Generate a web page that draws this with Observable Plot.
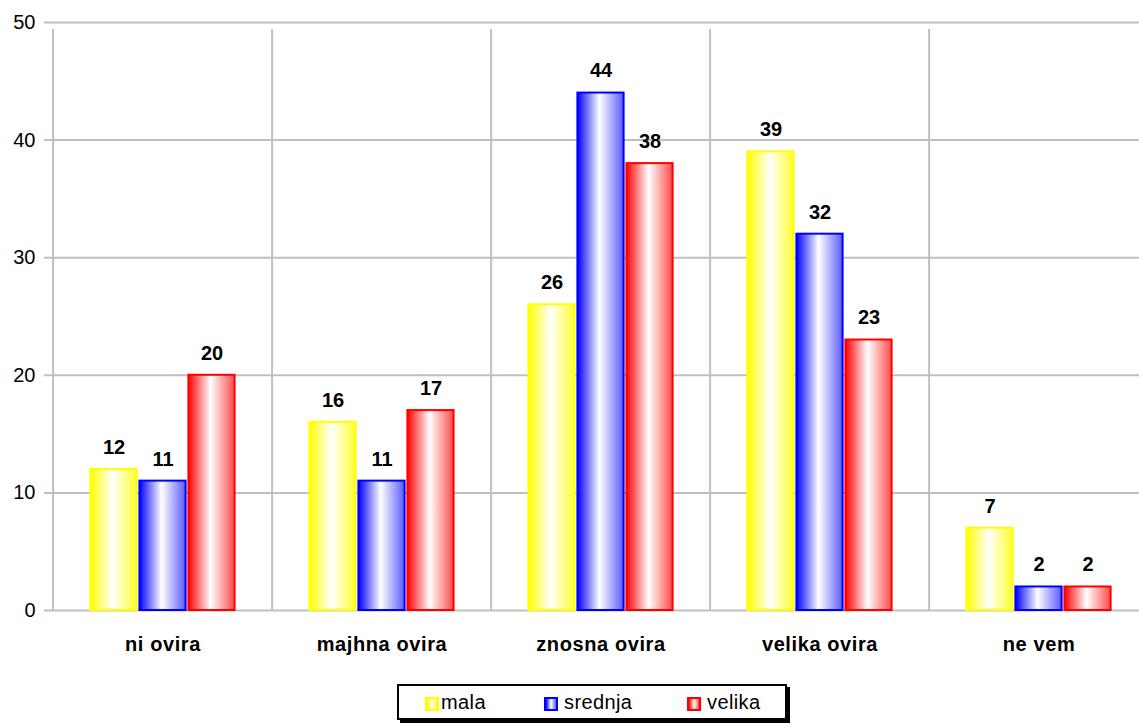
<!DOCTYPE html>
<html><head><meta charset="utf-8">
<script src="https://cdn.jsdelivr.net/npm/d3@7"></script>
<script src="https://cdn.jsdelivr.net/npm/@observablehq/plot@0.6"></script>
<style>
html,body{margin:0;padding:0;background:#fff;overflow:hidden;}
body{width:1139px;height:726px;position:relative;font-family:"Liberation Sans",Arial,sans-serif;}
#chart{position:absolute;left:0;top:0;}
#legend{position:absolute;left:397px;top:684px;width:386px;height:32px;border:2px solid #000;box-shadow:3px 3px 0 #000;background:#fff;}
.item{position:absolute;top:0;height:32px;line-height:32px;font-size:20px;letter-spacing:0.4px;color:#000;}
.sw{position:absolute;top:11px;width:10px;height:10px;border:2px solid;}
</style></head><body>
<div id="chart"></div>
<div id="legend"></div>
<script>
const categories = ["ni ovira", "majhna ovira", "znosna ovira", "velika ovira", "ne vem"];
const seriesNames = ["mala", "srednja", "velika"];
const mala = [12, 16, 26, 39, 7];
const srednja = [11, 11, 44, 32, 2];
const velika = [20, 17, 38, 23, 2];
const yTicks = [0, 10, 20, 30, 40, 50];
const colors = ["#ffff00", "#0000ff", "#ff0000"];
const rightColors = ["#ffff30", "#5a5aff", "#ff4a4a"];

const seriesValues = [mala, srednja, velika];
const data = categories.flatMap((c, i) => seriesNames.map((s, j) => ({category: c, series: s, value: seriesValues[j][i]})));

const W = 1150, H = 680, ML = 51, MT = 22, MB = 70;
const bw = (W - ML) / categories.length;
const barW = 49;
const inset = (bw - barW) / 2 + 1;
const grid = "#c0c0c0";

const marks = [
  Plot.ruleY(yTicks, {stroke: grid, strokeWidth: 2, insetLeft: -7}),
  Plot.ruleX(categories, {x: d => d, dx: -bw / 2, y1: 0, y2: 50, insetBottom: -7, stroke: grid, strokeWidth: 2}),
  Plot.ruleX([categories[categories.length - 1]], {x: d => d, dx: bw / 2, y1: 0, y2: 50, insetBottom: -7, stroke: grid, strokeWidth: 2}),
  ...seriesNames.map((s, j) => Plot.barY(data.filter(d => d.series === s), {
    x: "category", y: "value", fill: `url(#grad${j})`, stroke: colors[j], strokeWidth: 2,
    dx: (j - 1) * barW, insetLeft: inset, insetRight: inset
  })),
  ...seriesNames.map((s, j) => Plot.text(data.filter(d => d.series === s), {
    x: "category", y: "value", text: d => String(d.value), dx: (j - 1) * barW, dy: -22,
    fontWeight: "bold", fontSize: 20, fill: "black"
  })),
  Plot.axisY({ticks: yTicks, tickSize: 0, tickPadding: 16, fontSize: 20, fill: "black", label: null}),
  Plot.axisX({tickSize: 0, tickPadding: 26, fontSize: 20, fontWeight: "bold", fill: "black", label: null})
];

const chart = Plot.plot({
  width: W, height: H,
  marginLeft: ML, marginTop: MT, marginBottom: MB, marginRight: 0,
  style: "max-width:none;font-family:'Liberation Sans',Arial,sans-serif;background:white;overflow:hidden;",
  x: {domain: categories, padding: 0},
  y: {domain: [0, 50]},
  marks
});

const defs = d3.select(chart).insert("defs", ":first-child");
colors.forEach((c, j) => {
  const g = defs.append("linearGradient").attr("id", `grad${j}`).attr("x1", "0%").attr("x2", "100%").attr("y1", "0%").attr("y2", "0%");
  g.append("stop").attr("offset", "0%").attr("stop-color", c);
  g.append("stop").attr("offset", "48%").attr("stop-color", "#ffffff");
  g.append("stop").attr("offset", "100%").attr("stop-color", rightColors[j]);
});
d3.select(chart).selectAll("[aria-label='x-axis tick label'] text").style("letter-spacing", "0.6px");
document.getElementById("chart").appendChild(chart);

const legend = document.getElementById("legend");
const pos = [[26, 42], [145, 165], [288, 308]];
seriesNames.forEach((s, j) => {
  const sw = document.createElement("div");
  sw.className = "sw";
  sw.style.left = pos[j][0] + "px";
  sw.style.borderColor = colors[j];
  sw.style.background = `linear-gradient(to right, ${colors[j]}, #ffffff 50%, ${rightColors[j]})`;
  legend.appendChild(sw);
  const t = document.createElement("div");
  t.className = "item";
  t.style.left = pos[j][1] + "px";
  t.textContent = s;
  legend.appendChild(t);
});
</script></body></html>
